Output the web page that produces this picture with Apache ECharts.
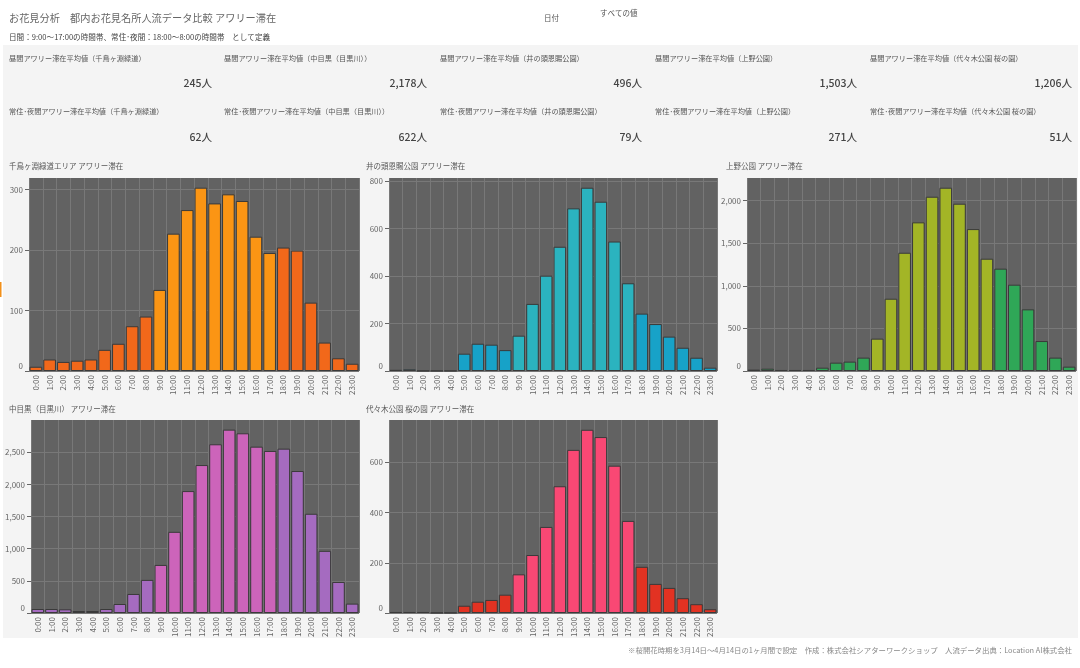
<!DOCTYPE html>
<html><head><meta charset="utf-8">
<style>html,body{margin:0;padding:0;background:#fff}#c{width:1080px;height:668px;filter:blur(0.3px)}</style>
<script src="https://cdn.jsdelivr.net/npm/echarts@6/dist/echarts.min.js"></script>
</head><body><div id="c"></div>
<script>
const hours = ["0:00","1:00","2:00","3:00","4:00","5:00","6:00","7:00","8:00","9:00","10:00","11:00","12:00","13:00","14:00","15:00","16:00","17:00","18:00","19:00","20:00","21:00","22:00","23:00"];
const dayHours = ["9:00","10:00","11:00","12:00","13:00","14:00","15:00","16:00","17:00"];
const chidorigafuchi = [7,19,15,17,19,35,45,74,90,134,227,266,303,277,292,281,222,195,204,199,113,47,21,12];
const inokashira = [5,7,1,1,1,73,115,111,88,149,283,402,524,686,773,714,546,370,242,198,145,98,56,14];
const ueno = [16,27,12,12,12,39,98,110,157,380,849,1389,1746,2047,2153,1965,1667,1319,1202,1014,724,352,157,51];
const nakameguro = [62,62,57,31,31,62,140,296,515,748,1263,1897,2302,2625,2853,2796,2588,2521,2557,2209,1544,967,483,146];
const yoyogi = [4,4,4,1,1,29,45,52,73,154,231,343,505,650,730,701,587,367,184,116,100,59,35,15];
const panelTitles = ["千鳥ヶ淵緑道エリア アワリー滞在","井の頭恩賜公園 アワリー滞在","上野公園 アワリー滞在","中目黒（目黒川） アワリー滞在","代々木公園 桜の園 アワリー滞在"];
const kpiPlaces = ["千鳥ヶ淵緑道","中目黒（目黒川）","井の頭恩賜公園","上野公園","代々木公園 桜の園"];
const kpiDay = ["245人","2,178人","496人","1,503人","1,206人"];
const kpiNight = ["62人","622人","79人","271人","51人"];
const panelValues = [chidorigafuchi,inokashira,ueno,nakameguro,yoyogi];
const panelMax = [319,814,2267,3003,769];
const panelInterval = [100,200,500,500,200];
const panelTicks = [[0,100,200,300],[0,200,400,600,800],[0,500,1000,1500,2000],[0,500,1000,1500,2000,2500],[0,200,400,600]];
const dayColors = ["#FB9514","#2BB3BF","#A3B526","#CC64BA","#F94874"];
const nightColors = ["#F2681A","#17A2C8","#2FA757","#A56BC0","#E23222"];
const panelBoxes = [[29,178,330,193],[389,178,328,193],[747,178,329,193],[31,420,328,193],[389,420,328,193]];
const panelTitlePos = [[9,166],[366,166],[726,166],[9,409],[366,409]];
const kpiLabelX = [9,224,440,655,870];
const kpiRight = [212,427,642,857,1072];

const FONT = '"Noto Sans CJK JP","Noto Sans",sans-serif';
const chart = echarts.init(document.getElementById('c'), null, {renderer:'canvas'});
function txt(x,y,s,size,color,align,weight){
  return {type:'text',x:x,y:y,silent:true,style:{text:s,fontSize:size,fill:color,fontFamily:FONT,align:align||'left',verticalAlign:'middle',fontWeight:weight||'normal'}};
}
const graphic = [
  {type:'rect',z:-10,shape:{x:3,y:45,width:1075,height:593},style:{fill:'#f4f4f4'}},
  {type:'rect',shape:{x:0,y:282,width:1.5,height:15},style:{fill:'#F2901A'}},
  txt(9,18,"お花見分析　都内お花見名所人流データ比較 アワリー滞在",10.2,'#666'),
  txt(9,37,"日間：9:00～17:00の時間帯、常住･夜間：18:00～8:00の時間帯　として定義",7.6,'#444'),
  txt(544,18,"日付",7.5,'#555'),
  txt(600,13,"すべての値",7.5,'#555'),
  txt(1072,650,"※桜開花時期を3月14日～4月14日の1ヶ月間で設定　作成：株式会社シアターワークショップ　人流データ出典：Location AI株式会社",7.4,'#888','right')
];
kpiPlaces.forEach((p,i)=>{
  graphic.push(txt(kpiLabelX[i],58,"昼間アワリー滞在平均値（"+p+"）",7.2,'#555'));
  graphic.push(txt(kpiLabelX[i],111,"常住･夜間アワリー滞在平均値（"+p+"）",7.2,'#555'));
  graphic.push(txt(kpiRight[i],83,kpiDay[i],10.5,'#444','right','500'));
  graphic.push(txt(kpiRight[i],137,kpiNight[i],10.5,'#444','right','500'));
});
panelTitles.forEach((t,i)=>graphic.push(txt(panelTitlePos[i][0],panelTitlePos[i][1],t,7.5,'#555')));

const grid=[],xAxis=[],yAxis=[],series=[];
panelValues.forEach((vals,i)=>{
  const b=panelBoxes[i];
  grid.push({left:b[0],top:b[1],width:b[2],height:b[3],show:true,backgroundColor:'#626262',borderWidth:0});
  xAxis.push({type:'category',gridIndex:i,data:hours,boundaryGap:true,
    axisLine:{show:false},axisTick:{show:false},
    splitLine:{show:true,interval:0,lineStyle:{color:'#787878',width:1}},
    axisLabel:{interval:0,rotate:90,fontSize:8,color:'#666',margin:4,fontFamily:FONT}});
  yAxis.push({type:'value',gridIndex:i,min:0,max:panelMax[i],interval:panelInterval[i],
    axisLine:{show:false},
    axisTick:{show:true,length:4,customValues:panelTicks[i],lineStyle:{color:'#666'}},
    splitLine:{show:true,lineStyle:{color:'#787878',width:1}},
    axisLabel:{fontSize:8,color:'#666',margin:6,fontFamily:FONT,customValues:panelTicks[i],
      rich:{zero:{fontSize:8,color:'#666',fontFamily:FONT,padding:[0,0,10,0]}},
      formatter:v=>v===0?'{zero|0}':v.toLocaleString('en-US')}});
  series.push({type:'bar',xAxisIndex:i,yAxisIndex:i,barWidth:'92%',silent:true,animation:false,
    data:vals.map((v,h)=>({value:v,itemStyle:{color:dayHours.includes(hours[h])?dayColors[i]:nightColors[i],borderColor:'#3a3a3a',borderWidth:1}}))});
});
chart.setOption({animation:false,backgroundColor:'#fff',tooltip:{show:false},grid,xAxis,yAxis,series,graphic});
</script></body></html>
